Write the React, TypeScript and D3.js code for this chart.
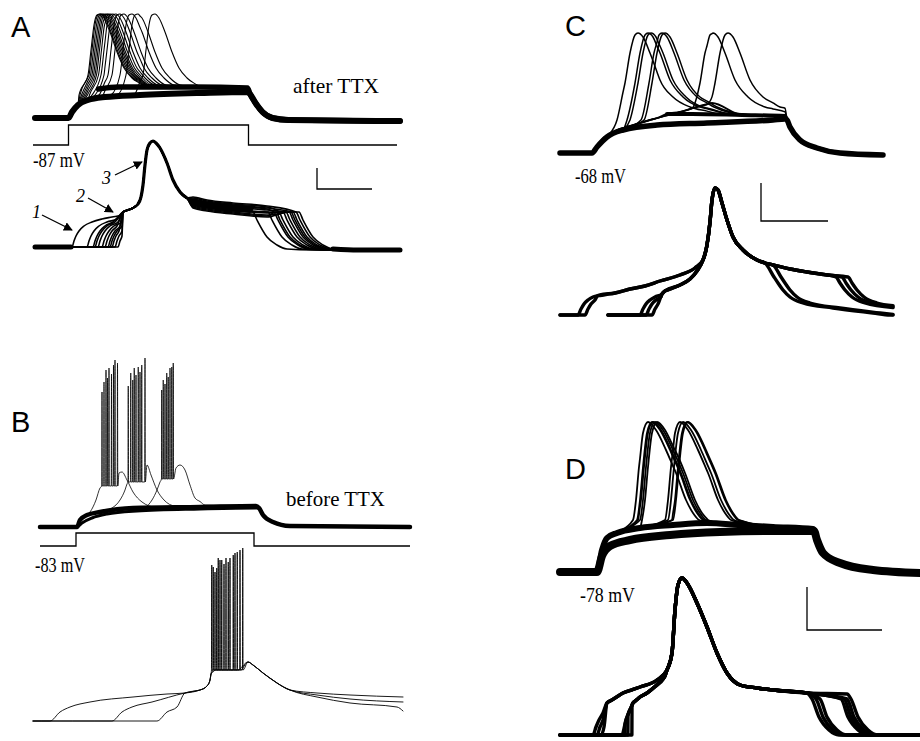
import * as d3 from 'd3'

type Pt = [number, number]
type Part = { pts: Pt[]; shift?: number; from?: number; to?: number; dv?: number }

// ---------- A, after TTX (ms, mV) ----------
const aStepT = [-142, 0, 720, 1314]
const aStepLevel = [0, 1, 0, 0]
const aOff = 720
const aCharge: Pt[] = [[-134, -87], [0, -87], [14, -81], [38, -74], [78, -69], [146, -66], [286, -64], [526, -62], [716, -61]]
const aSpike: Pt[] = [[-84, -64], [-48, -44], [-36, -19], [-24, 6], [-12, 16], [0, 17], [16, 13], [40, -1], [68, -21], [96, -37], [128, -47], [168, -54]]
const aPlateau: Pt[] = [[120, -58], [200, -56], [300, -56], [500, -56], [716, -57]]
const aDecay: Pt[] = [[726, -63], [748, -72], [776, -81], [816, -87], [880, -89], [1326, -90]]
const aPeaks = [126, 130, 136, 142, 148, 154, 160, 168, 178, 190, 206, 222, 254, 278, 346]

// A, same sweeps aligned on the spike
const aAlignOnsets = [-324, -264, -240, -232, -220, -204, -192, -180, -172, -164, -152, -140]
const aAlignLevels = [0, -3, 2, -5, 4, -2, 1, -6, 3, -4, 5, -1]
const aAlignCharge: Pt[] = [[0, -87], [8, -81], [16, -76], [28, -71], [48, -66], [80, -62], [120, -59], [160, -57], [200, -55]]
const aAlignSpike: Pt[] = [[-120, -52], [-80, -48], [-60, -44], [-48, -37], [-40, -25], [-32, -5], [-24, 10], [-12, 17], [0, 19], [12, 17], [28, 12], [56, -3], [80, -20], [108, -32], [136, -38]]
const aAlignPlateau: Pt[] = [[160, -42], [216, -45], [320, -48], [456, -51], [580, -53]]
const aAlignDecay: Pt[] = [[4, -52], [20, -60], [60, -77], [100, -85], [140, -89], [240, -90], [2000, -90]]
const aPulse = 720

// ---------- B, before TTX ----------
const bStepT = [-148, -4, 708, 1332]
const bStepLevel = [0, 1, 0, 0]
const bOff = 720
const bCharge: Pt[] = [[-148, -83], [0, -83], [12, -76], [40, -71], [92, -68], [224, -64], [492, -63], [716, -62]]
const bChargeLow: Pt[] = [[-148, -83], [0, -83], [20, -79], [60, -74], [120, -70], [240, -67], [492, -65], [716, -64]]
const bDecay: Pt[] = [[728, -64], [744, -71], [784, -78], [852, -82], [1332, -83]]

const bBurst1Pre: Pt[] = [[52, -68], [76, -56], [92, -44]]
const bBurst1T = [100, 108, 116, 122, 128, 138, 146, 152, 162]
const bBurst1V = [52, 62, 74, 66, 76, 70, 79, 84, 81]
const bBurst1Post: Pt[] = [[168, -29], [180, -28], [200, -36], [224, -48], [260, -58], [312, -63]]
const bBurst2Pre: Pt[] = [[140, -64], [172, -56], [192, -46], [200, -40]]
const bBurst2T = [205, 215, 223, 229, 236, 245, 252, 259, 272]
const bBurst2V = [58, 71, 64, 76, 69, 77, 72, 79, 86]
const bBurst2Post: Pt[] = [[280, -21], [296, -31], [320, -46], [348, -56], [392, -62]]
const bBurst3Pre: Pt[] = [[272, -63], [300, -56], [320, -46], [332, -38]]
const bBurst3T = [339, 345, 352, 359, 365, 372, 379, 385]
const bBurst3V = [54, 64, 60, 71, 67, 76, 77, 81]
const bBurst3Post: Pt[] = [[396, -24], [412, -21], [432, -26], [452, -41], [472, -54], [512, -61]]
const bTroughs = [-42, -38, -35]

// B aligned on the burst
const bAlignOnsets = [-648, -400, -220]
const bAlignCharge: Pt[] = [[0, -83], [40, -74], [80, -69], [160, -64], [332, -59], [468, -56]]
const bAlignEnv: Pt[] = [[-108, -55], [-48, -52], [-20, -48], [-8, -42], [-4, -36]]
const bAlignSpikeT = [[-1, 19, 39, 65, 92, 123], [5, 25, 48, 72, 101], [12, 32, 56, 85, 112]]
const bAlignSpikeV = [[73, 70, 78, 76, 85, 90], [71, 80, 74, 80, 86], [66, 78, 80, 83, 88]]
const bAlignTrough = -32
const bAlignPost: Pt[] = [[144, -24], [164, -27], [204, -35], [260, -45], [312, -52]]
const bAlignTails: Pt[][] = [
  [[420, -55], [552, -57], [764, -59]],
  [[420, -57], [552, -61], [764, -64]],
  [[420, -59], [552, -65], [740, -69], [764, -73]],
]

// ---------- C ----------
const cOff = 776
const cCharge: Pt[] = [[-128, -68], [0, -68], [20, -62], [60, -52], [124, -45], [260, -40], [460, -38], [724, -35], [772, -34]]
const cRamp: Pt[] = [[0, -68], [20, -61], [52, -52], [112, -44], [232, -35], [352, -27], [432, -21], [480, -18]]
const cSpike: Pt[] = [[-84, -35], [-52, 2], [-32, 32], [-12, 50], [0, 52], [20, 48], [48, 32], [88, 5], [140, -12], [208, -22], [340, -30]]
const cPlateau: Pt[] = [[300, -29], [400, -29], [600, -30], [772, -31]]
const cDecay: Pt[] = [[780, -35], [792, -42], [832, -55], [900, -63], [992, -68], [1164, -70]]
const cPeaksEarly = [184, 224, 236, 280, 292]
const cPeaksLate = [484, 544]

const cAlignOnsets1 = [-548, -520]
const cAlignOnsets2 = [-300, -276, -252]
const cAlignStarts = [-620, -428]
const cPulse = 780
const cAlignCharge: Pt[] = [[0, -68], [12, -62], [24, -57], [40, -53], [60, -50], [88, -48]]
const cAlignRamp1: Pt[] = [[-470, -49], [-400, -46], [-340, -42], [-280, -39], [-220, -34], [-140, -28], [-80, -21]]
const cAlignRamp2: Pt[] = [[-212, -47], [-200, -44], [-140, -38], [-100, -32], [-72, -24]]
const cAlignEnv: Pt[] = [[-48, -13], [-32, 2], [-20, 25], [-12, 47], [0, 59], [12, 57], [28, 44], [48, 27], [72, 10], [112, -3], [168, -13], [200, -16], [232, -18], [300, -22], [368, -25], [450, -28], [528, -31], [600, -34], [712, -37]]
const cAlignDecay: Pt[] = [[4, -30], [20, -36], [40, -43], [68, -50], [120, -56], [240, -61], [400, -66], [468, -68], [2000, -68]]

// ---------- D ----------
const dOff = 872
const dCharge: Pt[] = [[-148, -78], [0, -78], [20, -62], [52, -52], [132, -46], [292, -41], [492, -38], [732, -37], [868, -37]]
const dChargeUp: Pt[] = [[-148, -78], [0, -78], [20, -56], [40, -44], [80, -39], [172, -34], [304, -31], [440, -29], [572, -31], [704, -33], [864, -35]]
const dSpike: Pt[] = [[-60, -26], [-48, -6], [-36, 27], [-20, 61], [0, 72], [32, 64], [72, 44], [112, 21], [152, -6], [180, -19], [204, -26], [260, -30]]
const dDecay: Pt[] = [[880, -46], [904, -59], [972, -69], [1104, -76], [1292, -79]]
const dPeaks = [204, 220, 224, 232, 240, 332, 344, 360, 364]

const dAlignOnsets1 = [-356, -340, -324]
const dAlignOnsets2 = [-240, -228, -216, -200]
const dPulse = 872
const dAlignCharge: Pt[] = [[0, -78], [12, -70], [24, -63], [40, -56], [60, -51], [88, -46], [140, -42]]
const dAlignRamp1: Pt[] = [[-300, -46], [-236, -36], [-168, -30], [-100, -23]]
const dAlignRamp2: Pt[] = [[-240, -78], [-220, -60], [-196, -46], [-168, -40], [-140, -36], [-110, -30], [-70, -20]]
const dAlignEnv: Pt[] = [[-60, -13], [-40, 4], [-28, 47], [-16, 72], [0, 79], [20, 74], [60, 54], [100, 30], [140, 4], [180, -16], [232, -28], [300, -31], [364, -33], [500, -36], [660, -37], [800, -38]]
const dAlignDecay: Pt[] = [[4, -42], [32, -60], [72, -73], [112, -78], [2000, -78]]

// scale bars [ms, mV]
const aBar = [220, 21]
const cBar = [268, 38]
const dBar = [300, 43]

// ---------- helpers ----------
const flat = (v: number): Pt[] => [[-1e5, v], [1e5, v]]
const restUntil = (v: number, on: number): Pt[] => [[-1e5, v], [on - 0.5, v]]

function valueAt(pts: Pt[], t: number) {
  if (t < pts[0][0] || t > pts[pts.length - 1][0]) return -Infinity
  return d3.scaleLinear().domain(pts.map((p) => p[0])).range(pts.map((p) => p[1]))(t)
}

// a sweep is the upper envelope of the parts that are active at each time
function compose(parts: Part[], t0: number, t1: number): Pt[] {
  const times = new Set<number>([t0, t1])
  const active = (p: Part, t: number) => t >= (p.from ?? -Infinity) && t < (p.to ?? Infinity)
  parts.forEach((p) => {
    p.pts.forEach(([t]) => {
      const tt = t + (p.shift ?? 0)
      if (tt >= t0 && tt <= t1 && active(p, tt)) times.add(tt)
    })
  })
  const out: Pt[] = []
  Array.from(times)
    .sort((a, b) => a - b)
    .forEach((t) => {
      let v = -Infinity
      parts.forEach((p) => {
        if (!active(p, t)) return
        v = Math.max(v, valueAt(p.pts, t - (p.shift ?? 0)) + (p.dv ?? 0))
      })
      if (v > -Infinity) out.push([t, v])
    })
  return out
}

function spikeTrain(times: number[], tops: number[], trough: number): Pt[] {
  return times.flatMap((t, i) => [[t - 1.2, trough], [t, tops[i]], [t + 1.2, trough]] as Pt[])
}

function frame(x0: number, y0: number, v0: number) {
  return {
    x: d3.scaleLinear().domain([0, 4]).range([x0, x0 + 1]),
    y: d3.scaleLinear().domain([v0, v0 + 1]).range([y0, y0 - 1]),
  }
}
type Frame = ReturnType<typeof frame>

const fA = frame(68.5, 118, -87)
const fA2 = frame(153, 247, -87)
const fB = frame(77, 527, -83)
const fB2 = frame(212, 721, -83)
const fC = frame(592, 153, -68)
const fC2 = frame(715, 315, -68)
const fD = frame(597, 572, -78)
const fD2 = frame(682, 735, -78)

type Trace = { f: Frame; pts: Pt[]; w: number }
const traces: Trace[] = []
const add = (f: Frame, pts: Pt[], w: number) => traces.push({ f, pts, w })

// A top
add(fA, compose([{ pts: aCharge, to: aOff }, { pts: aDecay, from: aOff }], -134, 1326), 6)
add(fA, compose([{ pts: aPlateau, to: aOff }, { pts: aDecay, from: aOff }], 120, 1326), 5.5)
aPeaks.forEach((pk) => {
  add(
    fA,
    compose(
      [
        { pts: aCharge, to: aOff },
        { pts: aSpike, shift: pk, to: pk + 169 },
        { pts: aPlateau, from: pk + 168, to: aOff },
        { pts: aDecay, from: aOff },
      ],
      -134,
      1326
    ),
    1.1
  )
})

// A bottom: noisy baseline, spike and plateau drawn as bands, then thin sweeps
const aFirstOn = aAlignOnsets[0]
const aLastOff = aAlignOnsets[aAlignOnsets.length - 1] + aPulse
add(fA2, compose([{ pts: flat(-87), to: aFirstOn }], -472, aFirstOn - 4), 5)
add(fA2, compose([{ pts: aAlignSpike, from: -60 }], -60, 136), 3.2)
add(fA2, compose([{ pts: aAlignPlateau, to: aFirstOn + aPulse }], 160, aFirstOn + aPulse - 10), 7)
add(fA2, compose([{ pts: aAlignDecay, shift: aLastOff }], aLastOff + 140, 988), 5)
aAlignOnsets.forEach((on, i) => {
  const off = on + aPulse
  add(
    fA2,
    compose(
      [
        { pts: restUntil(-87, on), to: on },
        { pts: aAlignCharge, shift: on, from: on, to: off },
        { pts: aAlignSpike, from: on, to: off },
        { pts: aAlignPlateau, dv: aAlignLevels[i], from: on, to: off },
        { pts: aAlignDecay, shift: off, from: off },
      ],
      -472,
      988
    ),
    1.6
  )
})

// B top
add(fB, compose([{ pts: bCharge, to: bOff }, { pts: bDecay, from: bOff }], -148, 1332), 4.5)
add(fB, compose([{ pts: bChargeLow, to: bOff }, { pts: bDecay, from: bOff }], -148, 1332), 3)
const bBursts: Pt[][] = [
  [...bBurst1Pre, ...spikeTrain(bBurst1T, bBurst1V, bTroughs[0]), ...bBurst1Post],
  [...bBurst2Pre, ...spikeTrain(bBurst2T, bBurst2V, bTroughs[1]), ...bBurst2Post],
  [...bBurst3Pre, ...spikeTrain(bBurst3T, bBurst3V, bTroughs[2]), ...bBurst3Post],
]
bBursts.forEach((burst) => {
  add(fB, compose([{ pts: bCharge, to: bOff }, { pts: burst, to: bOff }, { pts: bDecay, from: bOff }], -148, 1332), 0.8)
})

// B bottom
bAlignOnsets.forEach((on, i) => {
  add(
    fB2,
    compose(
      [
        { pts: restUntil(-83, on), to: on },
        { pts: bAlignCharge, shift: on, from: on },
        { pts: bAlignEnv, from: on },
        { pts: spikeTrain(bAlignSpikeT[i], bAlignSpikeV[i], bAlignTrough), from: on },
        { pts: bAlignPost, from: on },
        { pts: bAlignTails[i], from: on },
      ],
      -716,
      764
    ),
    0.9
  )
})

// C top
add(fC, compose([{ pts: cCharge, to: cOff }, { pts: cDecay, from: cOff }], -128, 1164), 5.5)
add(fC, compose([{ pts: cPlateau, to: cOff }, { pts: cDecay, from: cOff }], 300, 1164), 4)
add(fC, compose([{ pts: cCharge, to: cOff }, { pts: cRamp, to: cOff }, { pts: cPlateau, to: cOff }, { pts: cDecay, from: cOff }], -128, 1164), 2)
cPeaksEarly.forEach((pk) => {
  add(
    fC,
    compose(
      [
        { pts: cCharge, to: cOff },
        { pts: cSpike, shift: pk, to: Math.min(pk + 341, cOff) },
        { pts: cPlateau, from: pk + 340, to: cOff },
        { pts: cDecay, from: cOff },
      ],
      -128,
      1164
    ),
    1.5
  )
})
cPeaksLate.forEach((pk) => {
  add(
    fC,
    compose(
      [
        { pts: cCharge, to: cOff },
        { pts: cRamp, to: pk },
        { pts: cSpike, shift: pk, to: Math.min(pk + 341, cOff) },
        { pts: cPlateau, from: pk + 340, to: cOff },
        { pts: cDecay, from: cOff },
      ],
      -128,
      1164
    ),
    1.5
  )
})

// C bottom
const cGroups: [number[], Pt[], number][] = [
  [cAlignOnsets1, cAlignRamp1, cAlignStarts[0]],
  [cAlignOnsets2, cAlignRamp2, cAlignStarts[1]],
]
cGroups.forEach(([onsets, ramp, start]) => {
  onsets.forEach((on) => {
    const off = on + cPulse
    add(
      fC2,
      compose(
        [
          { pts: restUntil(-68, on), to: on },
          { pts: cAlignCharge, shift: on, from: on, to: off },
          { pts: ramp, from: on, to: off },
          { pts: cAlignEnv, from: on, to: off },
          { pts: cAlignDecay, shift: off, from: off },
        ],
        start,
        712
      ),
      3.4
    )
  })
})

// D top
add(fD, compose([{ pts: dCharge, to: dOff }, { pts: dDecay, from: dOff }], -148, 1292), 8)
add(fD, compose([{ pts: dChargeUp, to: dOff }, { pts: dDecay, from: dOff }], -148, 1292), 6)
dPeaks.forEach((pk) => {
  add(fD, compose([{ pts: dChargeUp, to: dOff }, { pts: dSpike, shift: pk, to: dOff }, { pts: dDecay, from: dOff }], -148, 1292), 1.8)
})

// D bottom
const dGroups: [number[], Pt[]][] = [
  [dAlignOnsets1, dAlignRamp1],
  [dAlignOnsets2, dAlignRamp2],
]
dGroups.forEach(([onsets, ramp]) => {
  onsets.forEach((on) => {
    const off = on + dPulse
    add(
      fD2,
      compose(
        [
          { pts: restUntil(-78, on), to: on },
          { pts: dAlignCharge, shift: on, from: on, to: off },
          { pts: ramp, from: on, to: off },
          { pts: dAlignEnv, from: on, to: off },
          { pts: dAlignDecay, shift: off, from: off },
        ],
        -488,
        952
      ),
      3.4
    )
  })
})

function pathOf(t: Trace) {
  return (
    d3
      .line<Pt>()
      .x((d) => t.f.x(d[0]))
      .y((d) => t.f.y(d[1]))
      .curve(d3.curveMonotoneX)(t.pts) ?? ''
  )
}

function stepPath(f: Frame, times: number[], levels: number[], yLow: number, yHigh: number) {
  const y = d3.scaleLinear().domain([0, 1]).range([yLow, yHigh])
  return (
    d3
      .line<number>()
      .x((_, i) => f.x(times[i]))
      .y((d) => y(d))
      .curve(d3.curveStepAfter)(levels) ?? ''
  )
}

function ScaleBar({ f, bar, x0, y0 }: { f: Frame; bar: number[]; x0: number; y0: number }) {
  const w = f.x(bar[0]) - f.x(0)
  const h = f.y(0) - f.y(bar[1])
  return <path d={`M${x0},${y0 - h}V${y0}H${x0 + w}`} fill="none" stroke="#000" strokeWidth={1.3} />
}

const serif = "'Liberation Serif', 'Times New Roman', serif"
const sans = "'Liberation Sans', Arial, sans-serif"

export default function App() {
  return (
    <svg width={920} height={741} style={{ position: 'absolute', left: 0, top: 0, background: '#fff' }}>
      <defs>
        <marker id="ah" viewBox="0 0 10 10" refX="9" refY="5" markerWidth="9" markerHeight="9" markerUnits="userSpaceOnUse" orient="auto">
          <path d="M0,0L10,5L0,10z" fill="#000" />
        </marker>
      </defs>
      <rect width={920} height={741} fill="#fff" />

      <g fill="none" stroke="#000" strokeLinejoin="round" strokeLinecap="round">
        {traces.map((t, i) => (
          <path key={i} d={pathOf(t)} strokeWidth={t.w} />
        ))}
        <path d={stepPath(fA, aStepT, aStepLevel, 145, 125)} strokeWidth={1.3} strokeLinecap="butt" strokeLinejoin="miter" />
        <path d={stepPath(fB, bStepT, bStepLevel, 546, 533)} strokeWidth={1.3} strokeLinecap="butt" strokeLinejoin="miter" />
      </g>

      <ScaleBar f={fA2} bar={aBar} x0={317} y0={189} />
      <ScaleBar f={fC2} bar={cBar} x0={761} y0={221} />
      <ScaleBar f={fD2} bar={dBar} x0={807} y0={630} />

      <g stroke="#000" strokeWidth={1.3}>
        <line x1={42} y1={215} x2={72} y2={230} markerEnd="url(#ah)" />
        <line x1={88} y1={198} x2={113} y2={212} markerEnd="url(#ah)" />
        <line x1={115} y1={175} x2={142} y2={162} markerEnd="url(#ah)" />
      </g>
      <g fontFamily={serif} fontStyle="italic" fontSize={18}>
        <text x={32} y={218}>1</text>
        <text x={76} y={202}>2</text>
        <text x={102} y={184}>3</text>
      </g>

      <g fontFamily={sans} fontSize={29}>
        <text x={11} y={37}>A</text>
        <text x={11} y={432}>B</text>
        <text x={565} y={36}>C</text>
        <text x={565} y={479}>D</text>
      </g>

      <g fontFamily={serif} fontSize={22}>
        <text x={293} y={93} textLength={86} lengthAdjust="spacingAndGlyphs">after TTX</text>
        <text x={286} y={506} textLength={99} lengthAdjust="spacingAndGlyphs">before TTX</text>
      </g>
      <g fontFamily={serif} fontSize={20}>
        <text x={33} y={167} textLength={52} lengthAdjust="spacingAndGlyphs">-87 mV</text>
        <text x={35} y={572} textLength={50} lengthAdjust="spacingAndGlyphs">-83 mV</text>
        <text x={575} y={183} textLength={51} lengthAdjust="spacingAndGlyphs">-68 mV</text>
        <text x={580} y={602} textLength={55} lengthAdjust="spacingAndGlyphs">-78 mV</text>
      </g>
    </svg>
  )
}
